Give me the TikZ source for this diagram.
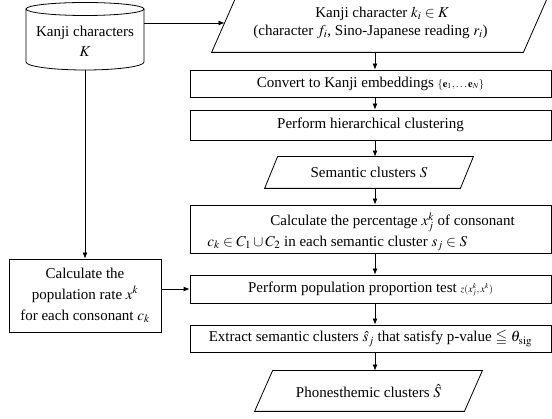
\documentclass[tikz,border=0pt]{standalone}
\usepackage{mathptmx}
\usepackage{amssymb}
\usepackage{fontspec}
\setmainfont{Liberation Serif}
\usetikzlibrary{arrows.meta,calc}
\begin{document}
\begin{tikzpicture}[x=1pt,y=-1pt,line width=0.8pt,
  font=\fontsize{15}{19}\selectfont,
  box/.style={draw,rectangle,inner sep=0pt,minimum width=361pt,minimum height=#1},
  plg/.style={rectangle,inner sep=0pt},
  txt/.style={inner sep=0pt,anchor=base},
  txtw/.style={inner sep=0pt,anchor=base west},
  arr/.style={-{Latex[length=6pt,width=5pt]}}]
\useasboundingbox (0,0) rectangle (552,419);
\coordinate (ax) at (375,0);
% database cylinder
\node[inner sep=0pt,minimum width=118pt,minimum height=68pt] (db) at (85,36) {};
\draw (26,9) -- (26,62) arc[start angle=180,end angle=0,x radius=59,y radius=8] -- (144,9);
\draw (85,9) ellipse[x radius=59,y radius=6.5];
\node[txt] (dbt1) at (85,36.5) {Kanji characters};
\node[txt] (dbt2) at (85,57) {$K$};
% right column
\node[plg,minimum width=336pt,minimum height=56pt] (kin) at (380,24) {};
\draw ([xshift=25pt]kin.north west) -- (kin.north east) -- ([xshift=-25pt]kin.south east) -- (kin.south west) -- cycle;
\coordinate (kinL) at ($(kin.south west)!0.518!([xshift=25pt]kin.north west)$);
\node[txtw] (kin1) at (315,17.5) {Kanji character $k_i \in K$};
\node[txtw] (kin2) at (253,35.5) {(character $f_i$, Sino-Japanese reading $r_i$)};
\node[box=27pt] (conv) at (370.5,83.5) {Convert to Kanji embeddings {\fontsize{10.5}{12}\selectfont$\{\mathbf{e}_1,\ldots\mathbf{e}_N\}$}};
\node[box=30pt] (hier) at (370.5,125) {Perform hierarchical clustering};
\node[plg,minimum width=208pt,minimum height=31pt] (sem) at (369,172.5) {Semantic clusters $S$};
\draw ([xshift=13pt]sem.north west) -- (sem.north east) -- ([xshift=-13pt]sem.south east) -- (sem.south west) -- cycle;
\node[box=48pt] (calc) at (370.5,229) {};
\node[txtw] (calc1) at (270,225.5) {Calculate the percentage $x_j^k$ of consonant};
\node[txtw] (calc2) at (207,246.5) {$c_k \in C_1 \cup C_2$ in each semantic cluster $s_j \in S$};
\node[box=28pt] (pop) at (370.5,289) {Perform population proportion test {\fontsize{10}{12}\selectfont$z(x_j^k,x^k)$}};
\node[box=27pt] (ext) at (370.5,338.5) {Extract semantic clusters $\hat{s}_j$ that satisfy p-value $\leqq$ $\theta_{\mathrm{sig}}$};
\node[plg,minimum width=227pt,minimum height=40pt] (phon) at (368.5,391) {Phonesthemic clusters $\hat{S}$};
\draw ([xshift=18pt]phon.north west) -- (phon.north east) -- ([xshift=-18pt]phon.south east) -- (phon.south west) -- cycle;
% left box
\node[draw,rectangle,inner sep=0pt,minimum width=152pt,minimum height=73pt,align=center,
  font=\fontsize{15}{21}\selectfont] (left) at (85,295.5)
  {Calculate the\\population rate $x^k$\\for each consonant $c_k$};
% connectors
\draw[arr] (db.east |- kinL) -- (kinL);
\draw[arr] (kin.south -| ax) -- (conv.north -| ax);
\draw[arr] (conv.south -| ax) -- (hier.north -| ax);
\draw[arr] (hier.south -| ax) -- (sem.north -| ax);
\draw[arr] (sem.south -| ax) -- (calc.north -| ax);
\draw[arr] (calc.south -| ax) -- (pop.north -| ax);
\draw[arr] (pop.south -| ax) -- (ext.north -| ax);
\draw[arr] (ext.south -| ax) -- (phon.north -| ax);
\draw[arr] (db.south) -- (left.north);
\draw[arr] (left.east |- pop.west) -- (pop.west);
\end{tikzpicture}
\end{document}
